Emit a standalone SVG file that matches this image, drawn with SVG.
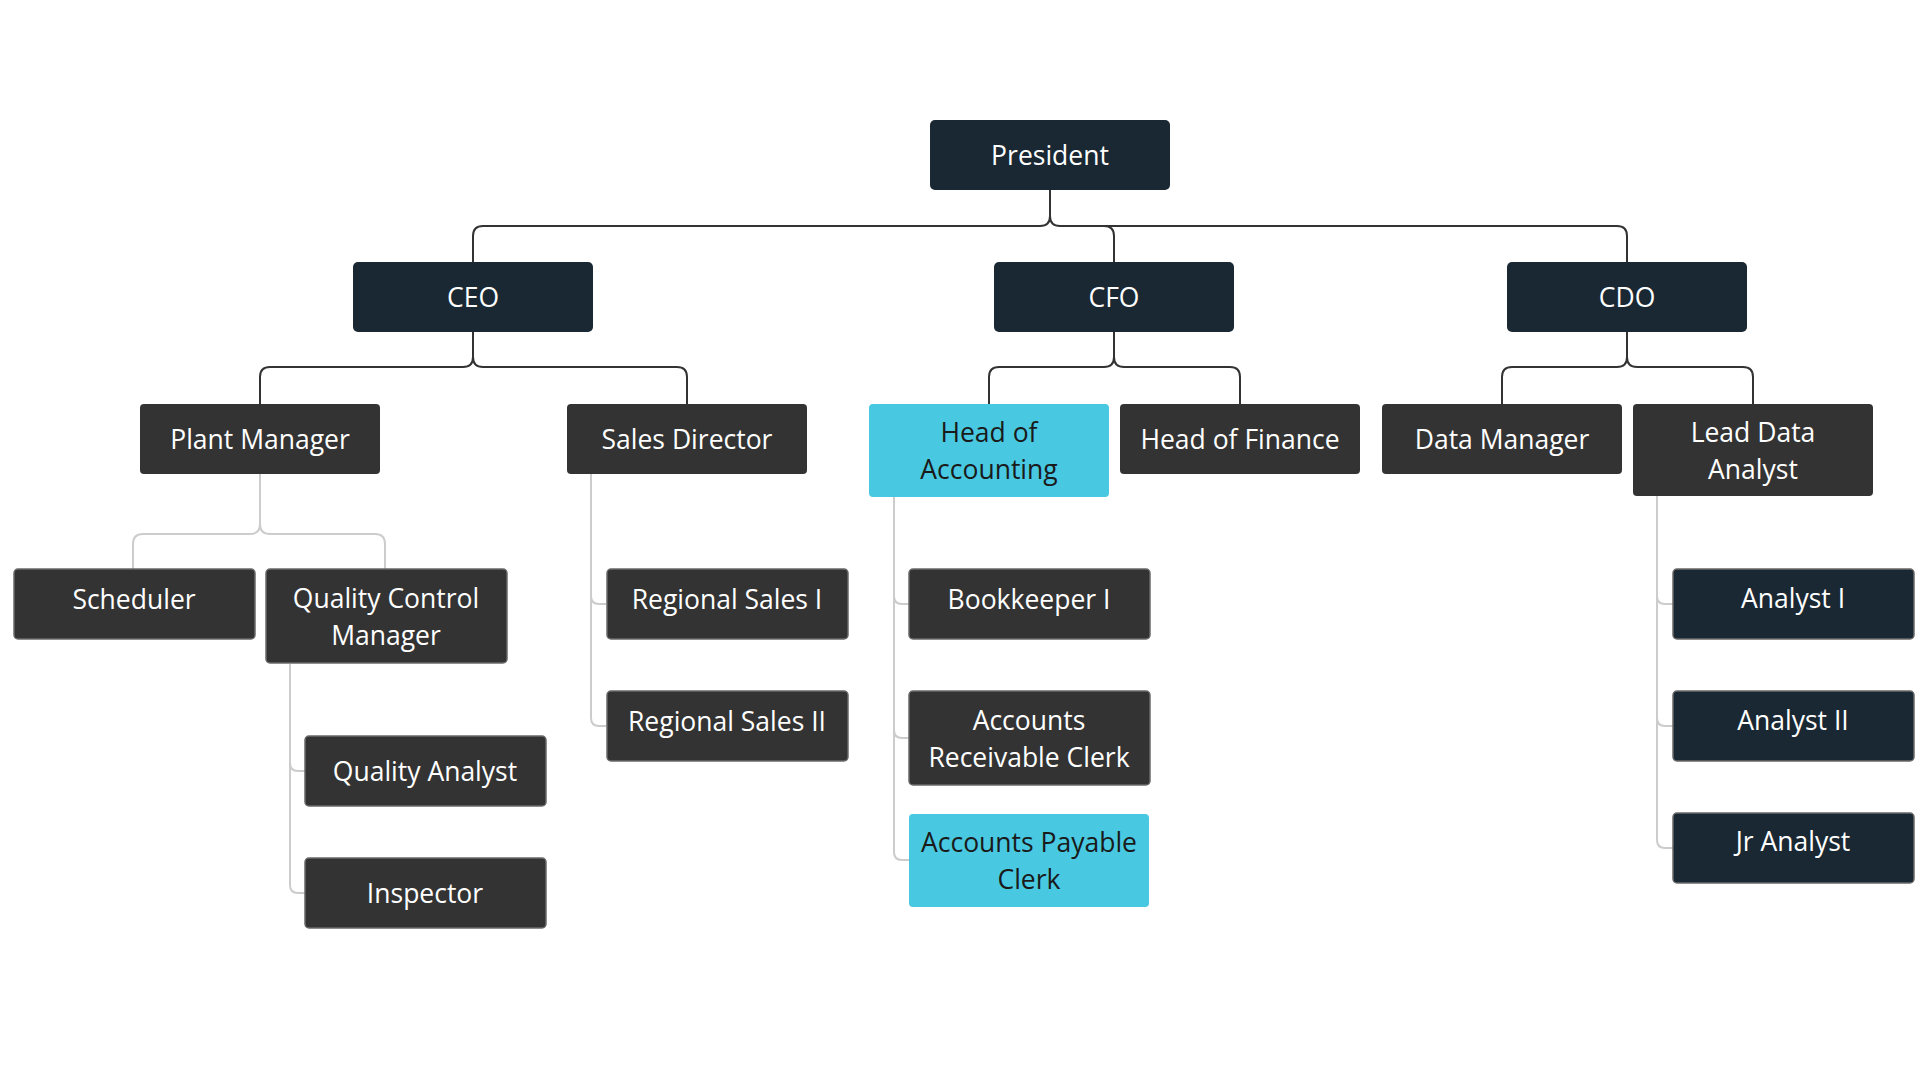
<svg xmlns="http://www.w3.org/2000/svg" width="1920" height="1080" viewBox="0 0 1920 1080">
<style>
text{font-family:"Open Sans","Liberation Sans",sans-serif;font-size:26.5px;text-anchor:middle;fill:#ffffff}
.navy{fill:#1a2833}
.gray{fill:#333333}
.cyan{fill:#48c9e1}
.bd{stroke:#6a6a6a;stroke-width:1.5}
.dk text,text.dk{fill:#1a1a1a}
.c1{fill:none;stroke:#333333;stroke-width:2}
.c2{fill:none;stroke:#cccccc;stroke-width:2}
</style>
<rect width="1920" height="1080" fill="#ffffff"/>
<g id="connectors">
<path class="c1" d="M1050 190V216Q1050 226 1040 226H483Q473 226 473 236V262"/>
<path class="c1" d="M1050 216Q1050 226 1060 226H1617Q1627 226 1627 236V262"/>
<path class="c1" d="M1104 226Q1114 226 1114 236V262"/>
<path class="c1" d="M473 332V357Q473 367 463 367H270Q260 367 260 377V404"/>
<path class="c1" d="M473 357Q473 367 483 367H677Q687 367 687 377V404"/>
<path class="c1" d="M1114 332V357Q1114 367 1104 367H999Q989 367 989 377V404"/>
<path class="c1" d="M1114 357Q1114 367 1124 367H1230Q1240 367 1240 377V404"/>
<path class="c1" d="M1627 332V357Q1627 367 1617 367H1512Q1502 367 1502 377V404"/>
<path class="c1" d="M1627 357Q1627 367 1637 367H1743Q1753 367 1753 377V404"/>
<path class="c2" d="M260 474V524Q260 534 250 534H143Q133 534 133 544V569"/>
<path class="c2" d="M260 524Q260 534 270 534H375Q385 534 385 544V569"/>
<path class="c2" d="M591 474V718Q591 726 599 726H606M591 596Q591 604 599 604H606"/>
<path class="c2" d="M894 497V852Q894 860 902 860H909M894 596Q894 604 902 604H909M894 730Q894 738 902 738H909"/>
<path class="c2" d="M290 664V885Q290 893 298 893H305M290 763Q290 771 298 771H305"/>
<path class="c2" d="M1657 496V840Q1657 848 1665 848H1673M1657 596Q1657 604 1665 604H1673M1657 718Q1657 726 1665 726H1673"/>
</g>
<g id="president"><rect class="navy" x="930" y="120" width="240" height="70" rx="5"/><text x="1050" y="165.3">President</text></g>
<g id="ceo"><rect class="navy" x="353" y="262" width="240" height="70" rx="5"/><text x="473" y="307.3">CEO</text></g>
<g id="cfo"><rect class="navy" x="994" y="262" width="240" height="70" rx="5"/><text x="1114" y="307.3">CFO</text></g>
<g id="cdo"><rect class="navy" x="1507" y="262" width="240" height="70" rx="5"/><text x="1627" y="307.3">CDO</text></g>
<g id="plant-manager"><rect class="gray" x="140" y="404" width="240" height="70" rx="4"/><text x="260" y="449.3">Plant Manager</text></g>
<g id="sales-director"><rect class="gray" x="567" y="404" width="240" height="70" rx="4"/><text x="687" y="449.3">Sales Director</text></g>
<g id="head-of-accounting" class="dk"><rect class="cyan" x="869" y="404" width="240" height="93" rx="4"/><text x="989" y="442.3">Head of</text><text x="989" y="479.3">Accounting</text></g>
<g id="head-of-finance"><rect class="gray" x="1120" y="404" width="240" height="70" rx="4"/><text x="1240" y="449.3">Head of Finance</text></g>
<g id="data-manager"><rect class="gray" x="1382" y="404" width="240" height="70" rx="4"/><text x="1502" y="449.3">Data Manager</text></g>
<g id="lead-data-analyst"><rect class="gray" x="1633" y="404" width="240" height="92" rx="4"/><text x="1753" y="441.8">Lead Data</text><text x="1753" y="478.8">Analyst</text></g>
<g id="scheduler"><rect class="gray bd" x="14" y="569" width="241" height="70" rx="4"/><text x="134" y="608.8">Scheduler</text></g>
<g id="quality-control-manager"><rect class="gray bd" x="266" y="569" width="241" height="94" rx="4"/><text x="386" y="607.8">Quality Control</text><text x="386" y="644.8">Manager</text></g>
<g id="quality-analyst"><rect class="gray bd" x="305" y="736" width="241" height="70" rx="4"/><text x="425" y="780.8">Quality Analyst</text></g>
<g id="inspector"><rect class="gray bd" x="305" y="858" width="241" height="70" rx="4"/><text x="425" y="902.8">Inspector</text></g>
<g id="regional-sales-i"><rect class="gray bd" x="607" y="569" width="241" height="70" rx="4"/><text x="727" y="608.8">Regional Sales I</text></g>
<g id="regional-sales-ii"><rect class="gray bd" x="607" y="691" width="241" height="70" rx="4"/><text x="727" y="730.8">Regional Sales II</text></g>
<g id="bookkeeper-i"><rect class="gray bd" x="909" y="569" width="241" height="70" rx="4"/><text x="1029" y="608.8">Bookkeeper I</text></g>
<g id="accounts-receivable-clerk"><rect class="gray bd" x="909" y="691" width="241" height="94" rx="4"/><text x="1029" y="729.8">Accounts</text><text x="1029" y="766.8">Receivable Clerk</text></g>
<g id="accounts-payable-clerk" class="dk"><rect class="cyan" x="909" y="814" width="240" height="93" rx="4"/><text x="1029" y="852.3">Accounts Payable</text><text x="1029" y="889.3">Clerk</text></g>
<g id="analyst-i"><rect class="navy bd" x="1673" y="569" width="241" height="70" rx="4"/><text x="1793" y="608.3">Analyst I</text></g>
<g id="analyst-ii"><rect class="navy bd" x="1673" y="691" width="241" height="70" rx="4"/><text x="1793" y="730.3">Analyst II</text></g>
<g id="jr-analyst"><rect class="navy bd" x="1673" y="813" width="241" height="70" rx="4"/><text x="1793" y="851.3">Jr Analyst</text></g>
</svg>
